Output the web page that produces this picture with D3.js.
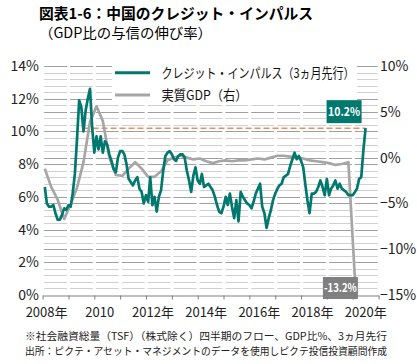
<!DOCTYPE html>
<html>
<head>
<meta charset="utf-8">
<script src="https://cdn.jsdelivr.net/npm/d3@7"></script>
<style>
  body { margin: 0; background: #fff; }
  text { font-family: "Noto Sans CJK JP", "Noto Sans", sans-serif; }
</style>
</head>
<body>
<svg id="chart" width="417" height="364"></svg>
<script>
// credit impulse, % of GDP, monthly from 2008-02 to 2020-07
const creditImpulse = [
  6.6, 5.6, 5.4, 5.4, 5.5, 5.0, 4.6, 4.6, 4.9, 5.3, 5.2,
  5.5, 5.4, 6.2, 7.4, 9.5, 11.9, 11.5, 10.0, 11.3, 12.0, 12.6, 10.3,
  8.7, 9.7, 8.9, 9.7, 8.7, 9.4, 9.2, 8.6, 8.2, 7.7, 7.5, 8.4,
  8.8, 8.8, 8.6, 8.0, 7.1, 6.9, 6.7, 7.0, 7.2, 6.5, 6.3, 5.6,
  6.1, 5.7, 7.2, 5.5, 6.0, 5.1, 6.0, 6.4, 7.6, 8.5, 8.7, 8.8,
  8.6, 8.3, 8.2, 8.5, 8.6, 8.6, 8.4, 7.6, 7.0, 6.3, 7.3, 7.8,
  7.0, 6.8, 7.4, 6.6, 6.7, 6.8, 6.6, 6.4, 6.0, 5.5, 5.1, 5.0,
  5.4, 6.0, 5.5, 6.2, 5.4, 4.7, 5.8, 4.5, 6.3, 6.0, 5.8, 5.6,
  5.5, 5.3, 5.7, 6.2, 6.5, 6.8, 5.4, 5.0, 4.1, 4.7, 5.2, 5.8,
  6.2, 6.5, 6.7, 6.8, 7.2, 7.3, 7.4, 7.9, 8.3, 8.7, 8.3, 8.5,
  8.2, 7.8, 6.8, 5.8, 5.0, 6.2, 6.2, 6.3, 6.6, 7.0, 6.6, 6.1,
  7.1, 6.1, 6.5, 6.7, 7.0, 6.5, 6.8, 6.5, 6.4, 6.3, 6.1, 6.1,
  6.1, 6.3, 6.5, 7.1, 7.2, 8.9, 10.2
]
// real GDP (right axis), quarterly from 2008-02 to 2020-02
const realGdp = [
  -1.2, -3.2, -4.6, -6.7,
  -5.1, -3.3, -0.5, 3.9,
  5.6, 4.0, 0.0, -1.9,
  -2.0, -1.2, -0.5, -1.2,
  -2.1, -2.1, -1.5, -0.3,
  0.0, 0.2, 0.0, -0.2,
  -0.1, -0.4, -0.6, -0.4,
  -0.3, -0.4, -0.3, -0.3,
  -0.2, -0.1, -0.2, 0.0,
  0.2, 0.2, 0.1, 0.0,
  -0.1, -0.3, -0.4, -0.5,
  -0.6, -0.8, -0.7, -0.5,
  -13.2
]
const leftTicks = [0, 2, 4, 6, 8, 10, 12, 14]
const rightTicks = [-15, -10, -5, 0, 5, 10]
const labelYears = [2008, 2010, 2012, 2014, 2016, 2018, 2020]
const xLabels = ['2008年', '2010', '2012年', '2014年', '2016年', '2018年', '2020年']
const referenceLevel = 10.2

const creditMonths = d3.timeMonth.range(new Date(2008, 1, 1), new Date(2020, 7, 1))
const gdpQuarters = d3.timeMonth.range(new Date(2008, 1, 1), new Date(2020, 2, 1), 3)
const credit = creditImpulse.map((v, i) => ({date: creditMonths[i], v: v}))
const gdp = realGdp.map((v, i) => ({date: gdpQuarters[i], v: v}))

const teal = '#00786e'
const grey = '#a6a6a6'

const svg = d3.select('#chart')

const x = d3.scaleTime()
  .domain([new Date(2008, 0, 1), new Date(2021, 0, 1)])
  .range([42.6, 378.6])
const yL = d3.scaleLinear().domain([0, 14]).range([295, 66])
const yR = d3.scaleLinear().domain([-15, 10]).range([295, 66])

// title
svg.append('text')
  .attr('x', 39).attr('y', 19)
  .attr('font-size', 15).attr('font-weight', 'bold').attr('fill', '#000')
  .attr('textLength', 274).attr('lengthAdjust', 'spacingAndGlyphs')
  .text('図表1-6：中国のクレジット・インパルス')
svg.append('text')
  .attr('x', 39).attr('y', 37.5)
  .attr('font-size', 14).attr('fill', '#000')
  .attr('textLength', 173).attr('lengthAdjust', 'spacingAndGlyphs')
  .text('（GDP比の与信の伸び率）')

// horizontal gridlines, broken at every year tick
const yearW = x(new Date(2009, 0, 1)) - x(new Date(2008, 0, 1))
const grid = svg.append('g')
d3.range(1, 36).forEach(i => {
  const gy = Math.round(yL(i * 14 / 35)) + 0.5
  const major = i % 5 === 0 || i % 7 === 0
  grid.append('line')
    .attr('x1', x.range()[0]).attr('x2', x.range()[1])
    .attr('y1', gy).attr('y2', gy)
    .attr('stroke', major ? '#a0a0a0' : '#d0d0d0')
    .attr('stroke-width', 1)
    .attr('stroke-dasharray', (yearW - 3) + ' 3')
    .attr('stroke-dashoffset', -1.5)
})

// bottom axis
const xAxis = svg.append('g')
  .attr('transform', 'translate(0,' + (yL(0) + 0.5) + ')')
  .call(d3.axisBottom(x).ticks(d3.timeYear.every(1)).tickSize(4).tickSizeOuter(0).tickFormat(''))
xAxis.selectAll('path, line').attr('stroke', '#7f7f7f')

const labelX = d3.scaleLinear()
  .domain([2008, 2020])
  .range([x(new Date(2008, 0, 1)) + 4, x(new Date(2020, 0, 1)) + 13])
svg.append('g').selectAll('text')
  .data(labelYears)
  .enter().append('text')
    .attr('x', d => labelX(d))
    .attr('y', 317)
    .attr('text-anchor', 'middle')
    .attr('font-size', 13).attr('fill', '#222')
    .text((d, i) => xLabels[i])

// left axis labels
svg.append('g').selectAll('text')
  .data(leftTicks)
  .enter().append('text')
    .attr('x', 39)
    .attr('y', d => yL(d) + 5)
    .attr('text-anchor', 'end')
    .attr('font-size', 14).attr('fill', '#222')
    .text(d => d + '%')

// right axis labels
svg.append('g').selectAll('text')
  .data(rightTicks)
  .enter().append('text')
    .attr('x', 380)
    .attr('y', d => yR(d) + 5)
    .attr('font-size', 14).attr('fill', '#222')
    .text(d => (d < 0 ? '−' + Math.abs(d) : d) + '%')

// reference level of the latest reading
svg.append('line')
  .attr('x1', x(new Date(2009, 7, 1))).attr('x2', x(credit[credit.length - 1].date))
  .attr('y1', yL(referenceLevel)).attr('y2', yL(referenceLevel))
  .attr('stroke', '#f08c5a').attr('stroke-width', 1.5)
  .attr('stroke-dasharray', '6 3')

svg.append('path')
  .datum(gdp)
  .attr('fill', 'none').attr('stroke', grey).attr('stroke-width', 2.7)
  .attr('stroke-linejoin', 'round')
  .attr('d', d3.line().x(d => x(d.date)).y(d => yR(d.v)))

svg.append('path')
  .datum(credit)
  .attr('fill', 'none').attr('stroke', teal).attr('stroke-width', 2.7)
  .attr('stroke-linejoin', 'round')
  .attr('d', d3.line().x(d => x(d.date)).y(d => yL(d.v)))

// legend
svg.append('rect')
  .attr('x', 112).attr('y', 62).attr('width', 245).attr('height', 38)
  .attr('fill', '#fff')
const legend = [
  {label: 'クレジット・インパルス（3ヵ月先行）', color: teal, w: 193},
  {label: '実質GDP（右）', color: grey, w: 86}
]
legend.forEach((d, i) => {
  const ly = 72.7 + i * 22.3
  svg.append('line')
    .attr('x1', 115).attr('x2', 150).attr('y1', ly).attr('y2', ly)
    .attr('stroke', d.color).attr('stroke-width', 3)
  svg.append('text')
    .attr('x', 161.5).attr('y', ly + 5)
    .attr('font-size', 13.5).attr('fill', '#111')
    .attr('textLength', d.w).attr('lengthAdjust', 'spacingAndGlyphs')
    .text(d.label)
})

// value call-outs
const lastCredit = credit[credit.length - 1]
const cx = x(lastCredit.date), cy = yL(lastCredit.v)
svg.append('rect')
  .attr('x', cx - 39).attr('y', cy - 28).attr('width', 35).attr('height', 23)
  .attr('fill', teal)
svg.append('text')
  .attr('x', cx - 37.5).attr('y', cy - 12)
  .attr('font-size', 12).attr('font-weight', 'bold').attr('fill', '#fff')
  .attr('textLength', 32).attr('lengthAdjust', 'spacingAndGlyphs')
  .text(lastCredit.v.toFixed(1) + '%')

const lastGdp = gdp[gdp.length - 1]
const gx = x(lastGdp.date), gyy = yR(lastGdp.v)
svg.append('rect')
  .attr('x', gx - 32).attr('y', gyy - 1.5).attr('width', 35).attr('height', 22)
  .attr('fill', '#7f7f7f')
svg.append('text')
  .attr('x', gx - 31).attr('y', gyy + 13.5)
  .attr('font-size', 12).attr('font-weight', 'bold').attr('fill', '#fff')
  .attr('textLength', 33).attr('lengthAdjust', 'spacingAndGlyphs')
  .text(lastGdp.v.toFixed(1) + '%')

// notes
const notes = [
  '※社会融資総量（TSF）（株式除く）四半期のフロー、GDP比%、3ヵ月先行',
  '出所：ピクテ・アセット・マネジメントのデータを使用しピクテ投信投資顧問作成'
]
notes.forEach((t, i) => {
  svg.append('text')
    .attr('x', 25).attr('y', 340 + i * 14.5)
    .attr('font-size', 10.5).attr('fill', '#222')
    .attr('textLength', 362).attr('lengthAdjust', 'spacingAndGlyphs')
    .text(t)
})
</script>
</body>
</html>
